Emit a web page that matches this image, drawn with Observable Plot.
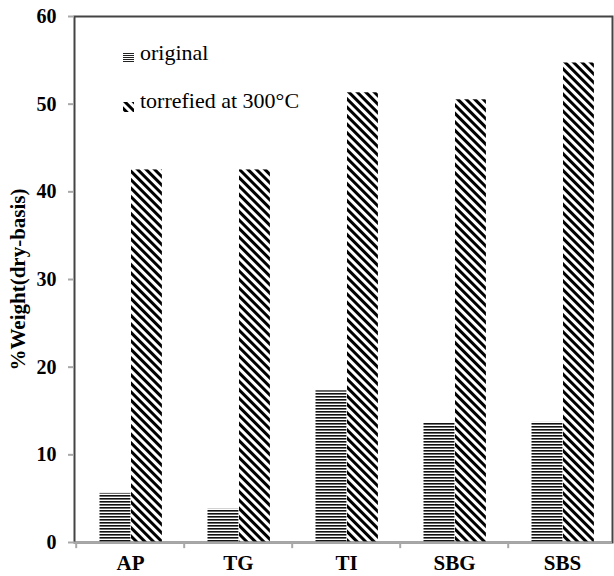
<!DOCTYPE html>
<html>
<head>
<meta charset="utf-8">
<script src="https://cdn.jsdelivr.net/npm/d3@7"></script>
<script src="https://cdn.jsdelivr.net/npm/@observablehq/plot@0.6"></script>
<style>
  html, body { margin: 0; padding: 0; background: #fff; }
  #wrap { position: relative; width: 614px; height: 576px; font-family: 'Liberation Serif', 'DejaVu Serif', serif; }
  #wrap svg text { font-family: 'Liberation Serif', 'DejaVu Serif', serif; }
  .legtxt { position: absolute; left: 140px; font-size: 22px; line-height: 24px; color: #000; white-space: nowrap; }
  .legsw { position: absolute; left: 123px; }
</style>
</head>
<body>
<div id="wrap"></div>
<script>
const categories = ["AP", "TG", "TI", "SBG", "SBS"];
const original = [5.6, 3.8, 17.3, 13.6, 13.7];
const torrefied = [42.5, 42.5, 51.3, 50.5, 54.7];
const yTicks = [0, 10, 20, 30, 40, 50, 60];
const seriesNames = ["original", "torrefied at 300°C"];
const yLabel = "%Weight(dry-basis)";

const data = categories.map((c, i) => ({cat: c, original: original[i], torrefied: torrefied[i]}));

const W = 614, H = 576;
const xRange = [74.5, 617.5];
const step = (xRange[1] - xRange[0]) / categories.length;
const serif = "'Liberation Serif', 'DejaVu Serif', serif";

const chart = Plot.plot({
  width: W,
  height: H,
  marginLeft: 74,
  marginRight: 2,
  marginTop: 16,
  marginBottom: 34,
  style: {fontFamily: serif, fontSize: "20px", fontWeight: "bold", background: "#fff", overflow: "visible"},
  x: {domain: categories, range: xRange, padding: 0},
  y: {domain: [0, 60], ticks: yTicks},
  marks: [
    Plot.barY(data, {x: "cat", y: "original", fill: "url(#horizPat)", insetLeft: 23.5, insetRight: 53.6}),
    Plot.barY(data, {x: "cat", y: "torrefied", fill: "url(#diagPat)", insetLeft: 55, insetRight: 22.1}),
    Plot.frame({stroke: "#444", strokeWidth: 2}),
    Plot.ruleY([0], {stroke: "#a8a8a8", strokeWidth: 2}),
    Plot.ruleX(categories, {x: d => d, dx: -step / 2, y1: 0, y2: -0.7, stroke: "#a8a8a8", strokeWidth: 2}),
    Plot.axisY({ticks: yTicks, tickSize: 6, tickPadding: 12, stroke: "#a8a8a8", strokeWidth: 2, fill: "#000", fontSize: 20, fontWeight: "bold", fontFamily: serif, label: null, line: true}),
    Plot.axisX({tickSize: 0, tickPadding: 13, fill: "#000", fontSize: 21, fontWeight: "bold", fontFamily: serif, label: null}),
    Plot.text([yLabel], {text: d => d, frameAnchor: "left", textAnchor: "middle", rotate: -90, dx: -56, fontSize: 21, fontWeight: "bold", fontFamily: serif, fill: "#000"})
  ]
});

const ns = "http://www.w3.org/2000/svg";
const defs = document.createElementNS(ns, "defs");
defs.innerHTML = `
  <pattern id="horizPat" patternUnits="userSpaceOnUse" width="4" height="3">
    <rect x="0" y="0" width="4" height="3" fill="#fff"/>
    <rect x="0" y="0" width="4" height="1.6" fill="#111"/>
  </pattern>
  <pattern id="horizSw" patternUnits="userSpaceOnUse" width="4" height="2">
    <rect x="0" y="0" width="4" height="2" fill="#fff"/>
    <rect x="0" y="0" width="4" height="1" fill="#222"/>
  </pattern>
  <pattern id="diagPat" patternUnits="userSpaceOnUse" width="6" height="6" patternTransform="rotate(-45)">
    <rect x="0" y="0" width="6" height="6" fill="#fff"/>
    <rect x="0" y="0" width="3" height="6" fill="#000"/>
  </pattern>`;
chart.insertBefore(defs, chart.firstChild);

const wrap = document.getElementById("wrap");
wrap.appendChild(chart);

const txtTops = [41, 89];
const swTops = [53, 102];
const fills = ["url(#horizSw)", "url(#diagPat)"];
seriesNames.forEach((name, i) => {
  const s = document.createElement("div");
  s.className = "legsw";
  s.style.top = swTops[i] + "px";
  s.innerHTML = `<svg width="11" height="10" style="display:block"><rect width="11" height="10" fill="${fills[i]}"/></svg>`;
  wrap.appendChild(s);
  const t = document.createElement("div");
  t.className = "legtxt";
  t.style.top = txtTops[i] + "px";
  t.textContent = name;
  wrap.appendChild(t);
});
</script>
</body>
</html>
